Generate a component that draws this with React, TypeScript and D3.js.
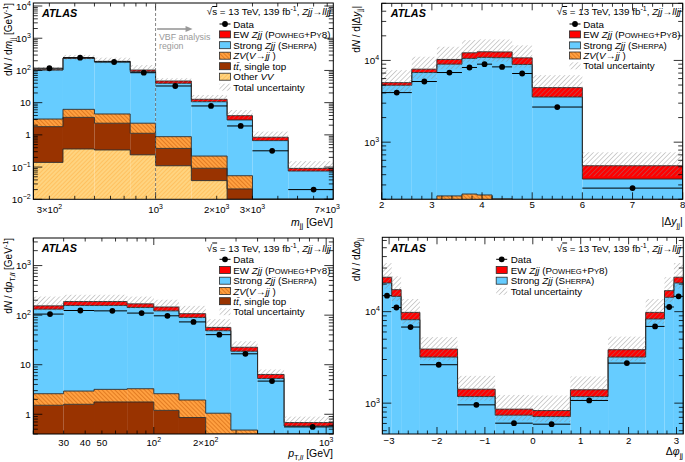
import React from "react";
import * as d3 from "d3";

const FONT = "'Liberation Sans', Arial, Helvetica, sans-serif";
const PI = Math.PI;

// ---------------- m_jj panel ----------------
const mjjEdges = [250, 350, 500, 750, 1000, 1500, 2250, 3000, 4500, 7500];
const mjjOtherVV = [0.14, 0.365, 0.34, 0.24, 0.11, 0.038, 0.005, 0.002, 0.001];
const mjjTtbar = [1.66, 3.13, 1.96, 0.88, 0.27, 0.054, 0.016, 0.003, 0.001];
const mjjZV = [1.3, 2.7, 2.15, 1.18, 0.5, 0.128, 0.033, 0.004, 0.002];
const mjjStrong = [99.9, 231.8, 182.5, 89.3, 39.1, 10.48, 2.85, 0.655, 0.0715];
const mjjEW = [2.5, 5, 5, 11.4, 7, 2.0, 1.04, 0.18, 0.0155];
const mjjData = [117, 249, 183, 85, 32.9, 7.9, 1.89, 0.32, 0.02];
const mjjUncUp = [1.22, 1.25, 1.3, 1.42, 1.22, 1.36, 1.5, 1.5, 1.68];
const mjjUncDown = [0.9, 0.86, 0.86, 0.8, 0.82, 0.8, 0.8, 0.8, 0.78];

// ---------------- |Delta y_jj| panel ----------------
const dyEdges = [2, 2.6, 3.1, 3.6, 3.9, 4.2, 4.6, 5, 6, 8];
const dyZV = [150, 185, 220, 232, 226, 203, 175, 110, 25];
const dyStrong = [4820, 6925, 8780, 10358, 10674, 10597, 8755, 3460, 329];
const dyEW = [380, 710, 1280, 1810, 1860, 1900, 1830, 1080, 161];
const dyData = [4040, 5520, 7110, 8200, 9000, 8340, 6920, 2690, 274];
const dyUncUp = [1.42, 1.42, 1.43, 1.43, 1.42, 1.42, 1.42, 1.42, 1.46];
const dyUncDown = [0.76, 0.76, 0.76, 0.76, 0.76, 0.76, 0.76, 0.76, 0.74];

// ---------------- p_T,ll panel ----------------
const ptEdges = [20, 30, 45, 70, 100, 140, 200, 280, 400, 570, 1100];
const ptTtbar = [1.52, 1.59, 1.77, 1.77, 1.2, 0.86, 0.3, 0.1, 0.03, 0.01];
const ptZV = [1.08, 1.35, 1.41, 1.51, 1.4, 1.08, 0.75, 0.38, 0.12, 0.04];
const ptStrong = [129.4, 154, 153.8, 139.7, 119.4, 88, 47.5, 18.2, 5.13, 0.53];
const ptEW = [22, 31, 31, 26, 24, 17, 8, 3.8, 1.08, 0.1];
const ptData = [105, 124, 122, 110, 97, 73, 40.4, 16.6, 4.67, 0.556];
const ptUncUp = [1.54, 1.37, 1.37, 1.4, 1.4, 1.44, 1.47, 1.32, 1.26, 1.32];
const ptUncDown = [0.8, 0.8, 0.8, 0.8, 0.8, 0.8, 0.8, 0.8, 0.8, 0.8];

// ---------------- Delta phi_jj panel ----------------
const dphiEdges = [-PI, (-15 * PI) / 16, (-7 * PI) / 8, (-3 * PI) / 4, -PI / 2, -PI / 4, 0, PI / 4, PI / 2, (3 * PI) / 4, (7 * PI) / 8, (15 * PI) / 16, PI];
const dphiStrong = [20600, 14700, 8170, 3190, 1180, 739, 713, 1180, 3190, 8320, 14350, 20600];
const dphiEW = [3200, 2700, 1650, 710, 240, 121, 117, 220, 650, 1500, 2620, 3200];
const dphiData = [14960, 11100, 6790, 2630, 958, 604, 589, 1070, 2740, 6900, 11250, 14700];
const dphiUncUp = [1.43, 1.4, 1.4, 1.35, 1.4, 1.43, 1.46, 1.4, 1.39, 1.4, 1.4, 1.43];
const dphiUncDown = [0.75, 0.75, 0.75, 0.75, 0.75, 0.75, 0.75, 0.75, 0.75, 0.75, 0.75, 0.75];

// colours
const C_EW = "#ff0000";
const C_STRONG = "#66ccff";
const C_TT = "#993300";
const LINE = "#2a2a2a";

const sup = (s: string) => (
  <tspan dy={-4} fontSize="0.72em">
    {s}
  </tspan>
);
const sub = (s: React.ReactNode) => (
  <tspan dy={2.5} fontSize="0.72em">
    {s}
  </tspan>
);
const it = (s: string) => <tspan fontStyle="italic">{s}</tspan>;
const sc = (s: string) => <tspan fontSize="0.78em">{s}</tspan>;

function logTicks(domain: [number, number]) {
  const major: number[] = [];
  const minor: number[] = [];
  const d0 = Math.floor(Math.log10(domain[0])) - 1;
  const d1 = Math.ceil(Math.log10(domain[1])) + 1;
  for (let d = d0; d <= d1; d++) {
    for (let k = 1; k <= 9; k++) {
      const v = k * Math.pow(10, d);
      if (v < domain[0] * 0.9999 || v > domain[1] * 1.0001) continue;
      if (k === 1) major.push(v);
      else minor.push(v);
    }
  }
  return { major, minor };
}

function linTicks(domain: [number, number], step: number, minorStep: number) {
  const major: number[] = [];
  const minor: number[] = [];
  const s0 = Math.ceil(domain[0] / minorStep - 1e-9);
  const s1 = Math.floor(domain[1] / minorStep + 1e-9);
  for (let s = s0; s <= s1; s++) {
    const v = s * minorStep;
    const r = v / step;
    if (Math.abs(r - Math.round(r)) < 1e-6) major.push(v);
    else minor.push(v);
  }
  return { major, minor };
}

function yLabel(v: number) {
  const e = Math.round(Math.log10(v));
  if (e === 0) return <>1</>;
  if (e === 1) return <>10</>;
  return (
    <>
      10{sup(e < 0 ? "\u2212" + -e : String(e))}
    </>
  );
}

type Layer = { values: number[]; fill: string };

type PanelProps = {
  id: string;
  l: number;
  t: number;
  r: number;
  b: number;
  xLog: boolean;
  xDomain: [number, number];
  yDomain: [number, number];
  edges: number[];
  layers: Layer[];
  data: number[];
  uncUp: number[];
  uncDown: number[];
  xTicks: { major: number[]; minor: number[] };
  xLabels: { v: number; node: React.ReactNode }[];
  xLabelY: number;
  children?: React.ReactNode;
};

function Panel(p: PanelProps) {
  const xs: any = (p.xLog ? d3.scaleLog() : d3.scaleLinear()).domain(p.xDomain).range([p.l, p.r]);
  const ys = d3.scaleLog().domain(p.yDomain).range([p.b, p.t]).clamp(true);
  const yT = logTicks(p.yDomain);
  const n = p.edges.length - 1;

  const cums: number[][] = [];
  let acc = new Array(n).fill(0);
  p.layers.forEach((L) => {
    acc = acc.map((a, i) => a + L.values[i]);
    cums.push(acc.slice());
  });
  const total = cums[cums.length - 1];

  const yOf = (v: number) => (v > 0 ? ys(v) : p.b);

  const outline = (tops: number[]) => {
    let d = `M${xs(p.edges[0])},${p.b}`;
    for (let i = 0; i < n; i++) {
      d += `L${xs(p.edges[i])},${yOf(tops[i])}L${xs(p.edges[i + 1])},${yOf(tops[i])}`;
    }
    d += `L${xs(p.edges[n])},${p.b}`;
    return d;
  };

  const XMAJ = 7,
    XMIN = 3.5,
    YMAJ = 9,
    YMIN = 4.5;

  return (
    <g>
      <defs>
        <clipPath id={`clip-${p.id}`}>
          <rect x={p.l} y={p.t} width={p.r - p.l} height={p.b - p.t} />
        </clipPath>
      </defs>
      <g clipPath={`url(#clip-${p.id})`}>
        {p.layers.map((L, j) => (
          <g key={j}>
            {L.values.map((v, i) => {
              const base = j === 0 ? 0 : cums[j - 1][i];
              const top = cums[j][i];
              const y1 = yOf(top);
              const y0 = yOf(base);
              return (
                <rect
                  key={i}
                  x={xs(p.edges[i])}
                  y={y1}
                  width={xs(p.edges[i + 1]) - xs(p.edges[i])}
                  height={Math.max(0, y0 - y1)}
                  fill={L.fill}
                />
              );
            })}
          </g>
        ))}
        {cums.map((c, j) => (
          <path key={j} d={outline(c)} fill="none" stroke={LINE} strokeWidth={0.9} />
        ))}
        {total.map((tv, i) => {
          const y1 = ys(tv * p.uncUp[i]);
          const y0 = ys(tv * p.uncDown[i]);
          return (
            <rect
              key={i}
              x={xs(p.edges[i])}
              y={y1}
              width={xs(p.edges[i + 1]) - xs(p.edges[i])}
              height={y0 - y1}
              fill="url(#hatchUnc)"
            />
          );
        })}
        {p.data.map((v, i) => {
          const cx = (p.edges[i] + p.edges[i + 1]) / 2;
          return (
            <g key={i}>
              <line x1={xs(p.edges[i])} x2={xs(p.edges[i + 1])} y1={ys(v)} y2={ys(v)} stroke="#000" strokeWidth={1} />
              <circle cx={xs(cx)} cy={ys(v)} r={2.9} fill="#000" />
            </g>
          );
        })}
      </g>
      <rect x={p.l} y={p.t} width={p.r - p.l} height={p.b - p.t} fill="none" stroke="#000" strokeWidth={1} />
      {yT.major.map((v) => (
        <g key={"ym" + v}>
          <line x1={p.l} x2={p.l + YMAJ} y1={ys(v)} y2={ys(v)} stroke="#000" strokeWidth={0.8} />
          <line x1={p.r} x2={p.r - YMAJ} y1={ys(v)} y2={ys(v)} stroke="#000" strokeWidth={0.8} />
          <text x={p.l - 2.5} y={ys(v) + 3.5} fontSize={9.8} textAnchor="end">
            {yLabel(v)}
          </text>
        </g>
      ))}
      {yT.minor.map((v) => (
        <g key={"yn" + v}>
          <line x1={p.l} x2={p.l + YMIN} y1={ys(v)} y2={ys(v)} stroke="#000" strokeWidth={0.8} />
          <line x1={p.r} x2={p.r - YMIN} y1={ys(v)} y2={ys(v)} stroke="#000" strokeWidth={0.8} />
        </g>
      ))}
      {p.xTicks.major.map((v) => (
        <g key={"xm" + v}>
          <line x1={xs(v)} x2={xs(v)} y1={p.b} y2={p.b - XMAJ} stroke="#000" strokeWidth={0.8} />
          <line x1={xs(v)} x2={xs(v)} y1={p.t} y2={p.t + XMAJ} stroke="#000" strokeWidth={0.8} />
        </g>
      ))}
      {p.xTicks.minor.map((v) => (
        <g key={"xn" + v}>
          <line x1={xs(v)} x2={xs(v)} y1={p.b} y2={p.b - XMIN} stroke="#000" strokeWidth={0.8} />
          <line x1={xs(v)} x2={xs(v)} y1={p.t} y2={p.t + XMIN} stroke="#000" strokeWidth={0.8} />
        </g>
      ))}
      {p.xLabels.map((L) => (
        <text key={"xl" + L.v} x={xs(L.v)} y={p.xLabelY} fontSize={9.6} textAnchor="middle">
          {L.node}
        </text>
      ))}
      {p.children}
    </g>
  );
}

type LegEntry = { kind: "data" | "box" | "hatch"; fill: string; label: React.ReactNode };

function Legend({ x, w, tx, ys, entries }: { x: number; w: number; tx: number; ys: number[]; entries: LegEntry[] }) {
  return (
    <g fontSize={9.8}>
      {entries.map((e, i) => {
        const y = ys[i];
        return (
          <g key={i}>
            {e.kind === "data" && (
              <>
                <line x1={x} x2={x + w} y1={y} y2={y} stroke="#000" strokeWidth={1} />
                <circle cx={x + w / 2} cy={y} r={2.9} fill="#000" />
              </>
            )}
            {e.kind === "box" && <rect x={x} y={y - 3.5} width={w} height={7} fill={e.fill} stroke={LINE} strokeWidth={0.8} />}
            {e.kind === "hatch" && <rect x={x} y={y - 3.5} width={w} height={7} fill={e.fill} />}
            <text x={tx} y={y + 3.5}>
              {e.label}
            </text>
          </g>
        );
      })}
    </g>
  );
}

const lblData = <>Data</>;
const lblEW = (
  <>
    EW {it("Zjj")} (P{sc("OWHEG")}+P{sc("Y")}8)
  </>
);
const lblStrong = (
  <>
    Strong {it("Zjj")} (S{sc("HERPA")})
  </>
);
const lblZV = (
  <>
    {it("ZV")}({it("V")}{"\u2192"}{it("jj")} )
  </>
);
const lblTT = (
  <>
    {it("t")}
    {it("t\u0304")}, single top
  </>
);
const lblVV = <>Other {it("VV")}</>;
const lblUnc = <>Total uncertainty</>;

const energyLabel = (
  <>
    {"\u221A"}
    <tspan textDecoration="overline">s</tspan> = 13 TeV, 139 fb
    <tspan dy={-4} fontSize="0.72em">
      -1
    </tspan>
    <tspan dy={4}>, </tspan>
    {it("Zjj")}
    {"\u2192"}
    {it("lljj")}
  </>
);

function Atlas({ x, y }: { x: number; y: number }) {
  return (
    <text x={x} y={y} fontSize={10.8} fontWeight="bold" fontStyle="italic">
      ATLAS
    </text>
  );
}

export default function App() {
  const mjjX = d3.scaleLog().domain([250, 7500]).range([33.3, 333.3]);
  return (
    <svg
      width={685}
      height={462}
      viewBox="0 0 685 462"
      style={{ position: "absolute", left: 0, top: 0, background: "#fff" }}
      fontFamily={FONT}
    >
      <defs>
        <pattern id="hatchUnc" width={3.4} height={3.4} patternUnits="userSpaceOnUse" patternTransform="rotate(45)">
          <line x1={0} y1={0} x2={0} y2={3.4} stroke="#8a8a8a" strokeWidth={0.8} />
        </pattern>
        <pattern id="hatchZV" width={3} height={3} patternUnits="userSpaceOnUse" patternTransform="rotate(-45)">
          <rect width={3} height={3} fill="#ffa040" />
          <line x1={0} y1={0} x2={0} y2={3} stroke="#c05000" strokeWidth={0.9} />
        </pattern>
        <pattern id="hatchVV" width={3} height={3} patternUnits="userSpaceOnUse" patternTransform="rotate(45)">
          <rect width={3} height={3} fill="#ffd480" />
          <line x1={0} y1={0} x2={0} y2={3} stroke="#ffab3a" strokeWidth={0.9} />
        </pattern>
      </defs>
      <rect x={0} y={0} width={685} height={462} fill="#fff" />

      {/* ---------- Panel 1: m_jj ---------- */}
      <Panel
        id="mjj"
        l={33.3}
        t={3}
        r={333.3}
        b={199.3}
        xLog
        xDomain={[250, 7500]}
        yDomain={[0.01, 12400]}
        edges={mjjEdges}
        layers={[
          { values: mjjOtherVV, fill: "url(#hatchVV)" },
          { values: mjjTtbar, fill: C_TT },
          { values: mjjZV, fill: "url(#hatchZV)" },
          { values: mjjStrong, fill: C_STRONG },
          { values: mjjEW, fill: C_EW },
        ]}
        data={mjjData}
        uncUp={mjjUncUp}
        uncDown={mjjUncDown}
        xTicks={{ major: [1000], minor: [300, 400, 500, 600, 700, 800, 900, 2000, 3000, 4000, 5000, 6000, 7000] }}
        xLabels={[
          { v: 300, node: <>3{"\u00D7"}10{sup("2")}</> },
          { v: 1000, node: <>10{sup("3")}</> },
          { v: 2000, node: <>2{"\u00D7"}10{sup("3")}</> },
          { v: 3000, node: <>3{"\u00D7"}10{sup("3")}</> },
          { v: 7000, node: <>7{"\u00D7"}10{sup("3")}</> },
        ]}
        xLabelY={213}
      >
        <line x1={mjjX(1000)} x2={mjjX(1000)} y1={3} y2={199.3} stroke="#666" strokeWidth={0.8} strokeDasharray="3,2" />
        <line x1={mjjX(1000) + 1.5} x2={mjjX(1000) + 31} y1={29} y2={29} stroke="#999" strokeWidth={1.6} />
        <polygon points={`${mjjX(1000) + 37},29 ${mjjX(1000) + 30},26 ${mjjX(1000) + 30},32`} fill="#999" />
        <text x={159} y={39.8} fontSize={8.8} fill="#999">
          VBF analysis
        </text>
        <text x={159} y={49.3} fontSize={8.8} fill="#999">
          region
        </text>
      </Panel>
      <Atlas x={42} y={17} />
      <text x={331} y={15} fontSize={9.8} textAnchor="end">
        {energyLabel}
      </text>
      <Legend
        x={219.5}
        w={11}
        tx={233.3}
        ys={[24, 34.4, 45.2, 55.7, 66.2, 76.7, 87.2]}
        entries={[
          { kind: "data", fill: "", label: lblData },
          { kind: "box", fill: C_EW, label: lblEW },
          { kind: "box", fill: C_STRONG, label: lblStrong },
          { kind: "box", fill: "url(#hatchZV)", label: lblZV },
          { kind: "box", fill: C_TT, label: lblTT },
          { kind: "box", fill: "url(#hatchVV)", label: lblVV },
          { kind: "hatch", fill: "url(#hatchUnc)", label: lblUnc },
        ]}
      />
      <text transform="translate(12,3) rotate(-90)" fontSize={10} textAnchor="end">
        d{it("N")} / d{it("m")}
        {sub("jj")}
        <tspan dy={-2.5}> [GeV</tspan>
        {sup("-1")}
        <tspan dy={4}>]</tspan>
      </text>
      <text x={333} y={225.5} fontSize={10.5} textAnchor="end">
        {it("m")}
        {sub("jj")}
        <tspan dy={-2.5}>{"  "}[GeV]</tspan>
      </text>

      {/* ---------- Panel 2: |Delta y| ---------- */}
      <Panel
        id="dy"
        l={381.7}
        t={3.3}
        r={682.7}
        b={199.3}
        xLog={false}
        xDomain={[2, 8]}
        yDomain={[200, 50000]}
        edges={dyEdges}
        layers={[
          { values: dyZV, fill: "url(#hatchZV)" },
          { values: dyStrong, fill: C_STRONG },
          { values: dyEW, fill: C_EW },
        ]}
        data={dyData}
        uncUp={dyUncUp}
        uncDown={dyUncDown}
        xTicks={linTicks([2, 8], 1, 0.2)}
        xLabels={[2, 3, 4, 5, 6, 7, 8].map((v) => ({ v, node: <>{v}</> }))}
        xLabelY={207.5}
      />
      <Atlas x={390.7} y={17} />
      <text x={681} y={15} fontSize={9.8} textAnchor="end">
        {energyLabel}
      </text>
      <Legend
        x={569.5}
        w={11}
        tx={583.3}
        ys={[24, 34.4, 45.4, 55.5, 65.8]}
        entries={[
          { kind: "data", fill: "", label: lblData },
          { kind: "box", fill: C_EW, label: lblEW },
          { kind: "box", fill: C_STRONG, label: lblStrong },
          { kind: "box", fill: "url(#hatchZV)", label: lblZV },
          { kind: "hatch", fill: "url(#hatchUnc)", label: lblUnc },
        ]}
      />
      <text transform="translate(359.5,6) rotate(-90)" fontSize={10} textAnchor="end">
        d{it("N")} / d|{"\u0394"}{it("y")}
        {sub("jj")}
        <tspan dy={-2.5}>|</tspan>
      </text>
      <text x={682.7} y={225} fontSize={10.5} textAnchor="end">
        |{"\u0394"}{it("y")}
        {sub("jj")}
        <tspan dy={-2.5}>|</tspan>
      </text>

      {/* ---------- Panel 3: pT,ll ---------- */}
      <Panel
        id="pt"
        l={33.3}
        t={238}
        r={333.3}
        b={434}
        xLog
        xDomain={[20, 1100]}
        yDomain={[0.4, 3600]}
        edges={ptEdges}
        layers={[
          { values: ptTtbar, fill: C_TT },
          { values: ptZV, fill: "url(#hatchZV)" },
          { values: ptStrong, fill: C_STRONG },
          { values: ptEW, fill: C_EW },
        ]}
        data={ptData}
        uncUp={ptUncUp}
        uncDown={ptUncDown}
        xTicks={{ major: [100, 1000], minor: [20, 30, 40, 50, 60, 70, 80, 90, 200, 300, 400, 500, 600, 700, 800, 900] }}
        xLabels={[
          { v: 30, node: <>30</> },
          { v: 40, node: <>40</> },
          { v: 50, node: <>50</> },
          { v: 100, node: <>10{sup("2")}</> },
          { v: 200, node: <>2{"\u00D7"}10{sup("2")}</> },
          { v: 1000, node: <>10{sup("3")}</> },
        ]}
        xLabelY={445.5}
      />
      <Atlas x={41.7} y={251.5} />
      <text x={331} y={251.5} fontSize={9.8} textAnchor="end">
        {energyLabel}
      </text>
      <Legend
        x={219.5}
        w={11}
        tx={233.3}
        ys={[259.3, 270, 280.7, 291, 301.2, 311.7]}
        entries={[
          { kind: "data", fill: "", label: lblData },
          { kind: "box", fill: C_EW, label: lblEW },
          { kind: "box", fill: C_STRONG, label: lblStrong },
          { kind: "box", fill: "url(#hatchZV)", label: lblZV },
          { kind: "box", fill: C_TT, label: lblTT },
          { kind: "hatch", fill: "url(#hatchUnc)", label: lblUnc },
        ]}
      />
      <text transform="translate(12,238) rotate(-90)" fontSize={10} textAnchor="end">
        d{it("N")} / d{it("p")}
        {sub(<>T,{it("ll")}</>)}
        <tspan dy={-2.5}> [GeV</tspan>
        {sup("-1")}
        <tspan dy={4}>]</tspan>
      </text>
      <text x={333} y={457.3} fontSize={10.5} textAnchor="end">
        {it("p")}
        {sub(<>T,{it("ll")}</>)}
        <tspan dy={-2.5}>{"  "}[GeV]</tspan>
      </text>

      {/* ---------- Panel 4: Delta phi ---------- */}
      <Panel
        id="dphi"
        l={382.3}
        t={237.3}
        r={683.3}
        b={434}
        xLog={false}
        xDomain={[-PI, PI]}
        yDomain={[460, 65000]}
        edges={dphiEdges}
        layers={[
          { values: dphiStrong, fill: C_STRONG },
          { values: dphiEW, fill: C_EW },
        ]}
        data={dphiData}
        uncUp={dphiUncUp}
        uncDown={dphiUncDown}
        xTicks={linTicks([-PI, PI], 1, 0.2)}
        xLabels={[-3, -2, -1, 0, 1, 2, 3].map((v) => ({ v, node: <>{v < 0 ? "\u2212" + -v : v}</> }))}
        xLabelY={444}
      />
      <Atlas x={390.7} y={251.5} />
      <text x={681} y={251.5} fontSize={9.8} textAnchor="end">
        {energyLabel}
      </text>
      <Legend
        x={496.2}
        w={11}
        tx={510.7}
        ys={[259.3, 270, 280.7, 291.3]}
        entries={[
          { kind: "data", fill: "", label: lblData },
          { kind: "box", fill: C_EW, label: lblEW },
          { kind: "box", fill: C_STRONG, label: lblStrong },
          { kind: "hatch", fill: "url(#hatchUnc)", label: lblUnc },
        ]}
      />
      <text transform="translate(359.5,238) rotate(-90)" fontSize={10} textAnchor="end">
        d{it("N")} / d{"\u0394"}{it("\u03C6")}
        {sub("jj")}
      </text>
      <text x={683} y={455} fontSize={10.5} textAnchor="end">
        {"\u0394"}{it("\u03C6")}
        {sub("jj")}
      </text>
    </svg>
  );
}
